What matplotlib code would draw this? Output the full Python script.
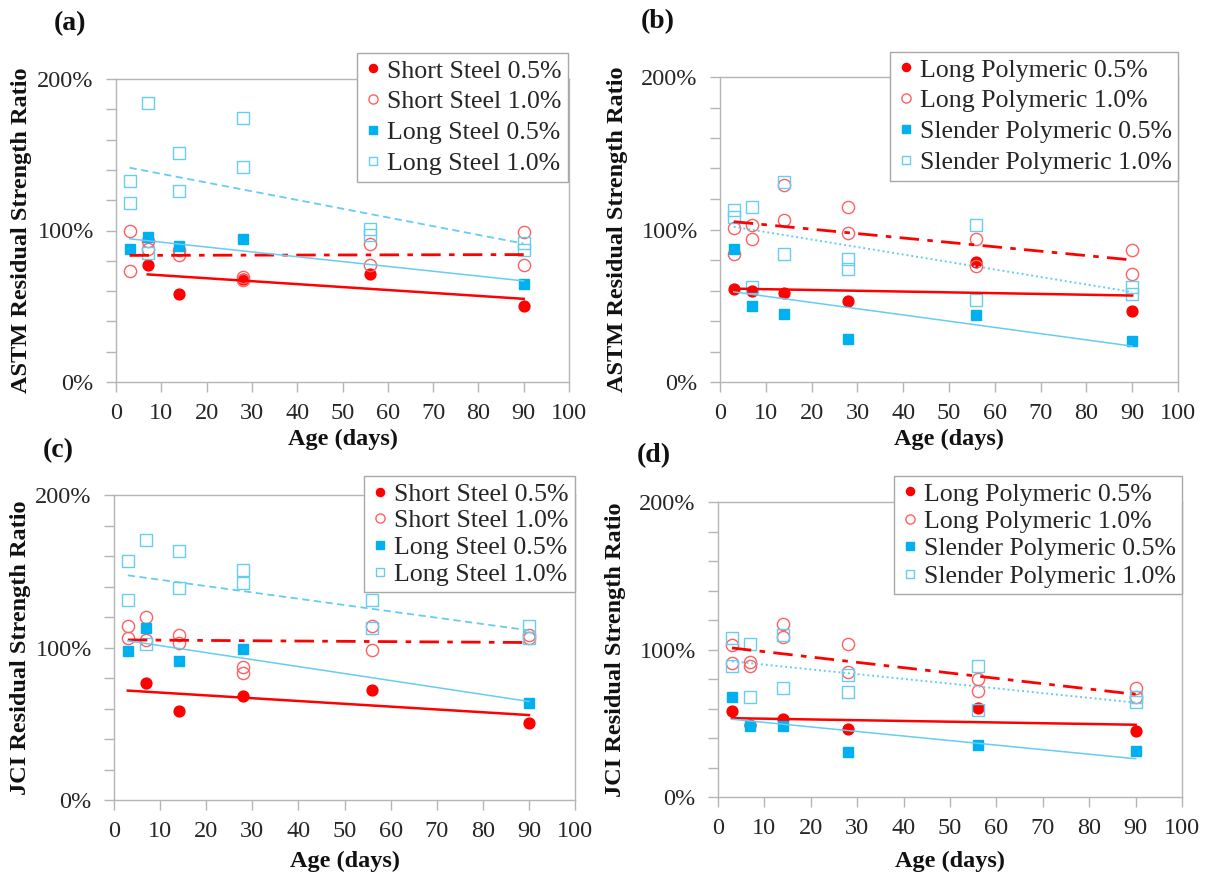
import numpy as np
import matplotlib
matplotlib.use("Agg")
import matplotlib.pyplot as plt
from matplotlib.ticker import MultipleLocator, FuncFormatter

plt.rcParams['font.family'] = ['Liberation Serif', 'DejaVu Serif']

# ---- data: residual strength ratio (%) vs age (days) ----
# (a) ASTM, steel fibres
a_ss05_x = [7, 14, 28, 56, 90]
a_ss05_y = [77, 58, 68, 71, 50]
a_ss10_x = [3, 3, 7, 7, 14, 14, 28, 28, 56, 56, 90, 90]
a_ss10_y = [100, 73, 93, 88, 87, 84, 67, 69, 91, 77, 99, 77]
a_ls05_x = [3, 7, 14, 28, 90]
a_ls05_y = [87.5, 96, 89.5, 94.5, 64.5]
a_ls10_x = [3, 3, 7, 7, 14, 14, 28, 28, 56, 56, 90, 90]
a_ls10_y = [133, 118, 184, 85, 151, 126, 174, 142, 101, 97, 92, 87]

# (b) ASTM, polymeric fibres
b_lp05_x = [3, 7, 14, 28, 56, 90]
b_lp05_y = [61, 60, 58.5, 53, 79, 46.5]
b_lp10_x = [3, 3, 7, 7, 14, 14, 28, 28, 56, 56, 90, 90]
b_lp10_y = [101, 84, 103, 94, 129, 106, 115, 98, 94, 76, 86.5, 71]
b_sp05_x = [3, 7, 14, 28, 56, 90]
b_sp05_y = [87, 50, 44.5, 28.5, 44, 27]
b_sp10_x = [3, 3, 7, 7, 14, 14, 28, 28, 56, 56, 90, 90]
b_sp10_y = [113, 108, 115, 62, 131, 84, 80.5, 74, 103, 54, 62, 58]

# (c) JCI, steel fibres
c_ss05_x = [7, 14, 28, 56, 90]
c_ss05_y = [76.5, 58.5, 68, 72, 50.5]
c_ss10_x = [3, 3, 7, 7, 14, 14, 28, 28, 56, 56, 90, 90]
c_ss10_y = [114, 106, 120, 105, 108, 103, 87, 83, 114, 98.5, 108, 106]
c_ls05_x = [3, 7, 14, 28, 90]
c_ls05_y = [98, 112.5, 91, 99, 63.5]
c_ls10_x = [3, 3, 7, 7, 14, 14, 28, 28, 56, 56, 90, 90]
c_ls10_y = [156.5, 131, 170.5, 102, 163, 139, 150.5, 142, 131, 113, 114, 106]

# (d) JCI, polymeric fibres
d_lp05_x = [3, 7, 14, 28, 56, 90]
d_lp05_y = [58, 49, 53, 46, 60.5, 45]
d_lp10_x = [3, 3, 7, 7, 14, 14, 28, 28, 56, 56, 90, 90]
d_lp10_y = [103, 91, 91.5, 89, 117, 108.5, 103.5, 85, 80, 72, 74, 68]
d_sp05_x = [3, 7, 14, 28, 56, 90]
d_sp05_y = [68, 48, 48, 30.5, 35.5, 31]
d_sp10_x = [3, 3, 7, 7, 14, 14, 28, 28, 56, 56, 90, 90]
d_sp10_y = [108, 89, 104, 68, 110, 74, 83, 71.5, 89, 59, 68, 64.5]

steel_names = ['Short Steel 0.5%', 'Short Steel 1.0%', 'Long Steel 0.5%', 'Long Steel 1.0%']
poly_names = ['Long Polymeric 0.5%', 'Long Polymeric 1.0%',
              'Slender Polymeric 0.5%', 'Slender Polymeric 1.0%']

W, H = 1210, 876
RED = '#ff0000'
RED_LIGHT = '#ff6060'
BLUE = '#00b0f0'
BLUE_LIGHT = '#66ccf2'
GREY = '#b5b5b5'
TXT = '#262626'

marker_kw = [
    dict(marker='o', mfc=RED, mec=RED, ms=7.8),
    dict(marker='o', mfc='none', mec=RED_LIGHT, ms=8.8, mew=1.0),
    dict(marker='s', mfc=BLUE, mec=BLUE, ms=7.2),
    dict(marker='s', mfc='none', mec=BLUE_LIGHT, ms=8.3, mew=1.0),
]


def trend_kw(i, dotted):
    if i == 0:
        return dict(color=RED, lw=1.8, ls='-')
    if i == 1:
        return dict(color=RED, lw=2.0, ls=(0, (7, 3, 2, 3)))
    if i == 2:
        return dict(color=BLUE_LIGHT, lw=1.1, ls='-')
    if dotted:
        return dict(color=BLUE_LIGHT, lw=1.4, ls=(0, (1, 1.5)))
    return dict(color=BLUE_LIGHT, lw=1.3, ls=(0, (4, 2.5)))


panels = [
    dict(tag='(a)', box=(116, 79, 569, 382), tag_xy=(70, 24),
         ylabel='ASTM Residual Strength Ratio', ylab_x=22, xlab_y=439,
         leg=(568, 53), names=steel_names, dotted=False, start=None, lsp=0.3,
         series=[(a_ss05_x, a_ss05_y), (a_ss10_x, a_ss10_y),
                 (a_ls05_x, a_ls05_y), (a_ls10_x, a_ls10_y)]),
    dict(tag='(b)', box=(720, 77, 1178, 382), tag_xy=(658, 22),
         ylabel='ASTM Residual Strength Ratio', ylab_x=618, xlab_y=439,
         leg=(1178, 52), names=poly_names, dotted=True, start=None, lsp=0.3,
         series=[(b_lp05_x, b_lp05_y), (b_lp10_x, b_lp10_y),
                 (b_sp05_x, b_sp05_y), (b_sp10_x, b_sp10_y)]),
    dict(tag='(c)', box=(114, 495, 575, 800), tag_xy=(58, 451),
         ylabel='JCI Residual Strength Ratio', ylab_x=21, xlab_y=861,
         leg=(575, 476), names=steel_names, dotted=False, start=3, lsp=0.14,
         series=[(c_ss05_x, c_ss05_y), (c_ss10_x, c_ss10_y),
                 (c_ls05_x, c_ls05_y), (c_ls10_x, c_ls10_y)]),
    dict(tag='(d)', box=(718, 502, 1182, 797), tag_xy=(654, 456),
         ylabel='JCI Residual Strength Ratio', ylab_x=615, xlab_y=861,
         leg=(1182, 476), names=poly_names, dotted=True, start=None, lsp=0.17,
         series=[(d_lp05_x, d_lp05_y), (d_lp10_x, d_lp10_y),
                 (d_sp05_x, d_sp05_y), (d_sp10_x, d_sp10_y)]),
]

fig = plt.figure(figsize=(W / 100, H / 100), dpi=100)

for p in panels:
    l, t, r, b = p['box']
    ax = fig.add_axes([l / W, 1 - b / H, (r - l) / W, (b - t) / H])

    handles = []
    for i, (xs, ys) in enumerate(p['series']):
        xs = np.array(xs, float)
        ys = np.array(ys, float)
        h, = ax.plot(xs, ys, ls='none', label=p['names'][i], zorder=3, **marker_kw[i])
        handles.append(h)
        # linear trendline over the tested ages
        k, c0 = np.polyfit(xs, ys, 1)
        x0 = xs.min() if p['start'] is None else p['start']
        xt = np.array([x0, xs.max()])
        ax.plot(xt, k * xt + c0, zorder=4, **trend_kw(i, p['dotted']))

    ax.set_xlim(0, 100)
    ax.set_ylim(0, 200)
    ax.xaxis.set_major_locator(MultipleLocator(10))
    ax.yaxis.set_major_locator(MultipleLocator(100))
    ax.yaxis.set_minor_locator(MultipleLocator(20))
    ax.yaxis.set_major_formatter(FuncFormatter(lambda v, pos: f'{v:.0f}%'))
    for s in ax.spines.values():
        s.set_color(GREY)
        s.set_linewidth(1.0)
    ax.tick_params(which='both', direction='out', length=7, width=1.0,
                   color=GREY, labelcolor=TXT, labelsize=17.5)
    ax.tick_params(axis='y', pad=9)
    ax.tick_params(axis='x', pad=8)

    fig.text(p['tag_xy'][0] / W, 1 - p['tag_xy'][1] / H, p['tag'],
             ha='center', va='center', fontsize=20, fontweight='bold', color='#111111')
    fig.text(p['ylab_x'] / W, 1 - (t + b) / 2 / H, p['ylabel'], rotation=90,
             ha='center', va='center', fontsize=17.5, fontweight='bold', color='#111111')
    fig.text((l + r) / 2 / W, 1 - p['xlab_y'] / H, 'Age (days)',
             ha='center', va='center', fontsize=17.5, fontweight='bold', color='#111111')

    leg = ax.legend(handles=handles, loc='upper right',
                    bbox_to_anchor=(p['leg'][0] / W, 1 - p['leg'][1] / H),
                    bbox_transform=fig.transFigure, fontsize=18.6, frameon=True,
                    fancybox=False, framealpha=1, edgecolor='#a8a8a8',
                    borderpad=0.25, labelspacing=p['lsp'], handlelength=0.75,
                    handletextpad=0.15, borderaxespad=0, markerscale=0.75)
    leg.get_frame().set_linewidth(1.0)
    for txt in leg.get_texts():
        txt.set_color(TXT)
    leg.set_zorder(10)

fig.savefig('out.png', dpi=100)
